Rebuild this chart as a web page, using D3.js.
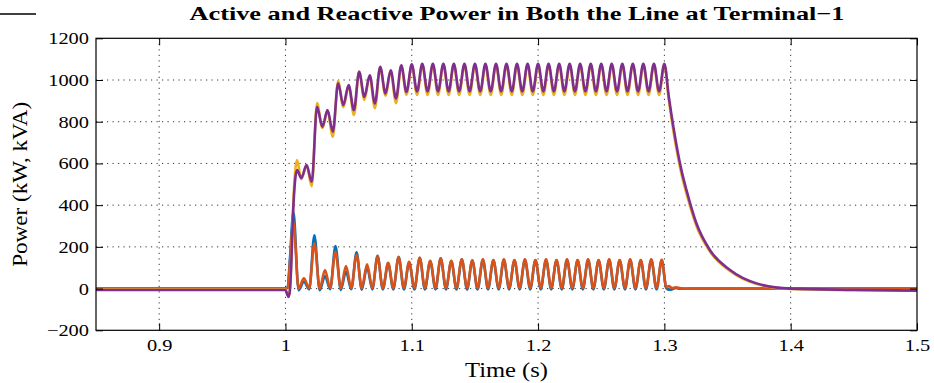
<!DOCTYPE html>
<html>
<head>
<meta charset="utf-8">
<script src="https://cdn.jsdelivr.net/npm/d3@7"></script>
<style>
	body { margin: 0; background: #fff; }
	svg { display: block; font-family: "Liberation Serif", "Times New Roman", serif; }
</style>
</head>
<body>
<div id="graphic"></div>
<script>
// axis setup
const xDomain = [0.85, 1.5];
const yDomain = [-200, 1200];
const xTicks = [0.9, 1, 1.1, 1.2, 1.3, 1.4, 1.5];
const yTicks = [-200, 0, 200, 400, 600, 800, 1000, 1200];

// active power (kW), read at the turning points of the trace
const activeTime = [0.85, 1.0, 1.0015, 1.0025, 1.0035, 1.0045, 1.006,
	1.0092, 1.0125, 1.0167, 1.0208, 1.025, 1.0292, 1.0333, 1.0375, 1.0417, 1.0458, 1.05, 1.0542,
	1.0583, 1.0625, 1.0667, 1.0708, 1.075, 1.0792, 1.0833, 1.0875, 1.0917, 1.0958, 1.1,
	1.1042, 1.1083, 1.1125, 1.1167, 1.1208, 1.125, 1.1292, 1.1333, 1.1375, 1.1417, 1.1458, 1.15,
	1.1542, 1.1583, 1.1625, 1.1667, 1.1708, 1.175, 1.1792, 1.1833, 1.1875, 1.1917, 1.1958, 1.2,
	1.2042, 1.2083, 1.2125, 1.2167, 1.2208, 1.225, 1.2292, 1.2333, 1.2375, 1.2417, 1.2458, 1.25,
	1.2542, 1.2583, 1.2625, 1.2667, 1.2708, 1.275, 1.2792, 1.2833, 1.2875, 1.2917, 1.2958, 1.3,
	1.3035, 1.307, 1.3135, 1.3175, 1.3254, 1.336, 1.352, 1.373, 1.4, 1.45, 1.5];

const activeLine1 = [-7, -7, -30, -40, -10, 100, 360,
	568, 530, 592, 512, 871, 776, 856, 752, 984, 880, 976, 856,
	1039, 919, 1023, 888, 1063, 936, 1047, 912, 1071, 943, 1075,
	945, 1078, 945, 1078, 945, 1078, 945, 1078, 945, 1078, 945, 1078,
	945, 1078, 945, 1078, 945, 1078, 945, 1078, 945, 1078, 945, 1078,
	945, 1078, 945, 1078, 945, 1078, 945, 1078, 945, 1078, 945, 1078,
	945, 1078, 945, 1078, 945, 1078, 945, 1078, 945, 1078, 945, 1078,
	920, 780, 568, 472, 312, 185, 89, 25, 0, -6, -10];

const activeLine2 = [-5, -5, -25, -35, -5, 110, 380,
	616, 525, 590, 491, 889, 770, 850, 728, 995, 870, 970, 832,
	1040, 905, 1020, 865, 1058, 925, 1042, 889, 1065, 930, 1070,
	928, 1072, 928, 1072, 928, 1072, 928, 1072, 928, 1072, 928, 1072,
	928, 1072, 928, 1072, 928, 1072, 928, 1072, 928, 1072, 928, 1072,
	928, 1072, 928, 1072, 928, 1072, 928, 1072, 928, 1072, 928, 1072,
	928, 1072, 928, 1072, 928, 1072, 928, 1072, 928, 1072, 928, 1072,
	905, 760, 550, 455, 300, 178, 84, 22, -2, -7, -10];

// reactive power (kVA), read at the turning points of the trace
const reactiveTime = [0.85, 1.0, 1.0018, 1.0035,
	1.0063, 1.0104, 1.0146, 1.0188, 1.0229, 1.0271, 1.0313, 1.0354, 1.0396, 1.0438, 1.0479, 1.0521,
	1.0563, 1.0604, 1.0646, 1.0688, 1.0729, 1.0771, 1.0813, 1.0854, 1.0896, 1.0938, 1.0979, 1.1021,
	1.1063, 1.1104, 1.1146, 1.1188, 1.1229, 1.1271, 1.1313, 1.1354, 1.1396, 1.1438, 1.1479, 1.1521,
	1.1563, 1.1604, 1.1646, 1.1688, 1.1729, 1.1771, 1.1813, 1.1854, 1.1896, 1.1938, 1.1979, 1.2021,
	1.2063, 1.2104, 1.2146, 1.2188, 1.2229, 1.2271, 1.2313, 1.2354, 1.2396, 1.2438, 1.2479, 1.2521,
	1.2563, 1.2604, 1.2646, 1.2688, 1.2729, 1.2771, 1.2813, 1.2854, 1.2896, 1.2938, 1.2979,
	1.3015, 1.3035, 1.306, 1.309, 1.313, 1.32, 1.5];

const reactiveLine1 = [0, 0, 8, 140,
	368, -8, 33, -4, 256, -8, 60, -3, 204, -6, 81, -3,
	174, -5, 102, -4, 157, -4, 120, -4, 152, -4, 125, -4,
	148, -4, 130, -4, 145, -4, 131, -4, 140, -4, 134, -4,
	138, -4, 136, -4, 138, -4, 136, -4, 138, -4, 136, -4,
	138, -4, 136, -4, 138, -4, 136, -4, 138, -4, 136, -4,
	138, -4, 136, -4, 138, -4, 136, -4, 138, -4, 136,
	2, -5, -4, 3, -1, 0, 0];

const reactiveLine2 = [0, 0, 5, 120,
	320, 0, 49, 2, 217, 0, 89, 3, 176, 1, 108, 3,
	161, 2, 117, 3, 152, 2, 124, 3, 150, 3, 128, 3,
	148, 3, 133, 3, 145, 3, 133, 3, 141, 3, 136, 3,
	140, 3, 137, 3, 140, 3, 137, 3, 140, 3, 137, 3,
	140, 3, 137, 3, 140, 3, 137, 3, 140, 3, 137, 3,
	140, 3, 137, 3, 140, 3, 137, 3, 140, 3, 138,
	6, 12, 3, 6, 1, 0, 0];

// matlab default line colours, in plotting order
const seriesColours = ['#0072bd', '#d95319', '#edb120', '#7e2f8e'];

const titleText = 'Active and Reactive Power in Both the Line at Terminal\u22121';
const xAxisLabel = 'Time (s)';
const yAxisLabel = 'Power (kW, kVA)';

let graphic = d3.select('#graphic');

// the picture is a little wider than its fonts, so stretch text horizontally
function stretch(selection, k) {
	selection.each(function () {
		const len = this.getComputedTextLength();
		d3.select(this).attr('textLength', len * k).attr('lengthAdjust', 'spacingAndGlyphs');
	});
}

function drawGraphic() {
	const width = 934, height = 383;
	const margin = { top: 38.3, right: 17, bottom: 52.7, left: 96 };
	const chart_width = width - margin.left - margin.right;
	const chart_height = height - margin.top - margin.bottom;
	const textStretch = 1.2;

	const x = d3.scaleLinear().domain(xDomain).range([0, chart_width]);
	const y = d3.scaleLinear().domain(yDomain).range([chart_height, 0]);

	const root = graphic.append('svg')
		.attr('width', width)
		.attr('height', height);

	// stray rule in the top-left corner of the original figure
	root.append('line')
		.attr('x1', 0).attr('x2', 36)
		.attr('y1', 14).attr('y2', 14)
		.attr('stroke', '#000')
		.attr('stroke-width', 1.5);

	const svg = root.append('g')
		.attr('transform', `translate(${margin.left},${margin.top})`);

	svg.append('clipPath')
		.attr('id', 'plot-clip')
		.append('rect')
		.attr('width', chart_width)
		.attr('height', chart_height);

	// dotted grid
	const grid = svg.append('g').attr('class', 'grid');
	grid.selectAll('line.vgrid')
		.data(xTicks.filter(d => d > xDomain[0] && d < xDomain[1]))
		.join('line')
		.attr('x1', d => x(d)).attr('x2', d => x(d))
		.attr('y1', 0).attr('y2', chart_height);
	grid.selectAll('line.hgrid')
		.data(yTicks.filter(d => d > yDomain[0] && d < yDomain[1]))
		.join('line')
		.attr('class', 'hgrid')
		.attr('x1', 0).attr('x2', chart_width)
		.attr('y1', d => y(d)).attr('y2', d => y(d));
	grid.selectAll('line')
		.attr('stroke', '#333')
		.attr('stroke-width', 1)
		.attr('stroke-dasharray', '1.2 4.3');

	// traces
	const series = [
		{ time: reactiveTime, values: reactiveLine1 },
		{ time: reactiveTime, values: reactiveLine2 },
		{ time: activeTime, values: activeLine2 },
		{ time: activeTime, values: activeLine1 }
	];

	const line = d3.line()
		.x(d => x(d[0]))
		.y(d => y(d[1]))
		.curve(d3.curveMonotoneX);

	svg.append('g')
		.attr('clip-path', 'url(#plot-clip)')
		.selectAll('path')
		.data(series)
		.join('path')
		.attr('d', d => line(d3.zip(d.time, d.values)))
		.attr('fill', 'none')
		.attr('stroke', (d, i) => seriesColours[i])
		.attr('stroke-width', 2.6)
		.attr('stroke-linejoin', 'round');

	// axes with inward ticks on all four sides
	const tickLen = 7;
	const xAxis = d3.axisBottom(x).tickValues(xTicks).tickSize(-tickLen).tickPadding(9)
		.tickFormat(d => String(d));
	const yAxis = d3.axisLeft(y).tickValues(yTicks).tickSize(-tickLen).tickPadding(7)
		.tickFormat(d3.format('d'));

	const xg = svg.append('g')
		.attr('transform', `translate(0,${chart_height})`)
		.call(xAxis);
	const yg = svg.append('g').call(yAxis);
	svg.append('g').call(d3.axisTop(x).tickValues(xTicks).tickSize(-tickLen).tickFormat(''));
	svg.append('g')
		.attr('transform', `translate(${chart_width},0)`)
		.call(d3.axisRight(y).tickValues(yTicks).tickSize(-tickLen).tickFormat(''));

	svg.selectAll('.domain').remove();
	svg.selectAll('.tick line').attr('stroke', '#000');

	[xg, yg].forEach(g => g.selectAll('text')
		.attr('fill', '#000')
		.style('font-family', '"Liberation Serif", serif')
		.style('font-size', '17px')
		.call(stretch, textStretch));

	// axes box
	svg.append('rect')
		.attr('width', chart_width)
		.attr('height', chart_height)
		.attr('fill', 'none')
		.attr('stroke', '#000')
		.attr('stroke-width', 1.2);

	// title and axis labels
	root.append('text')
		.attr('x', 517)
		.attr('y', 20)
		.attr('text-anchor', 'middle')
		.style('font-size', '19px')
		.style('font-weight', 'bold')
		.attr('textLength', 655)
		.attr('lengthAdjust', 'spacingAndGlyphs')
		.text(titleText);

	root.append('text')
		.attr('x', margin.left + chart_width / 2)
		.attr('y', 377)
		.attr('text-anchor', 'middle')
		.style('font-size', '20px')
		.attr('textLength', 83)
		.attr('lengthAdjust', 'spacingAndGlyphs')
		.text(xAxisLabel);

	root.append('text')
		.attr('transform', `translate(27,${margin.top + chart_height / 2}) rotate(-90)`)
		.attr('text-anchor', 'middle')
		.style('font-size', '21px')
		.attr('textLength', 165)
		.attr('lengthAdjust', 'spacingAndGlyphs')
		.text(yAxisLabel);
}

drawGraphic();
</script>
</body>
</html>
